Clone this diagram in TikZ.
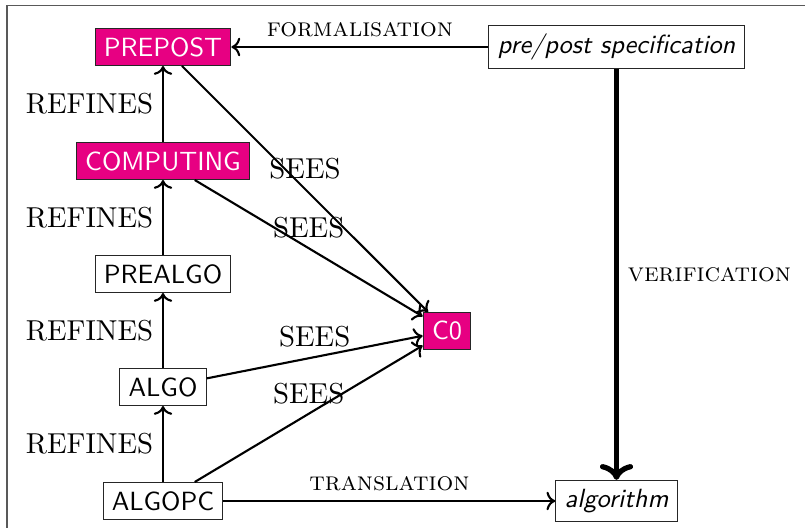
\documentclass[tikz,border=0pt]{standalone}
\usetikzlibrary{arrows.meta}
\definecolor{boxmag}{RGB}{231,0,130}
\begin{document}
\begin{tikzpicture}[x=0.38pt, y=-0.38pt,
  box/.style={draw=black!85, thin, font=\sffamily\fontsize{10}{12}\selectfont, inner sep=3.33pt, fill=white},
  magbox/.style={box, fill=boxmag, text=white},
  lbl/.style={font=\fontsize{10.95}{13}\selectfont},
  sclbl/.style={font=\fontsize{10}{12}\selectfont\scshape},
  conn/.style={thick, ->},
  frameline/.style={draw=black!65, line width=0.7pt}
]
\useasboundingbox (0,0) rectangle (805,528);
\draw[frameline] (7,528) -- (7,5.5) -- (805,5.5);

\node[magbox] (prepost) at (163,47) {PREPOST};
\node[magbox] (computing) at (163,161) {COMPUTING};
\node[box] (prealgo) at (163,274) {PREALGO};
\node[box] (algo) at (163,387) {ALGO};
\node[box] (algopc) at (163,501) {ALGOPC};
\node[magbox] (c0) at (447,331) {C0};
\node[box] (spec) at (616.5,47) {\itshape pre/post specification};
\node[box] (alg) at (616.5,501) {\itshape algorithm};

\draw[conn] (computing) -- (prepost) node[midway, left, lbl] {REFINES};
\draw[conn] (prealgo) -- (computing) node[midway, left, lbl] {REFINES};
\draw[conn] (algo) -- (prealgo) node[midway, left, lbl] {REFINES};
\draw[conn] (algopc) -- (algo) node[midway, left, lbl] {REFINES};

\draw[conn] (prepost) -- (c0) node[midway, above, lbl] {SEES};
\draw[conn] (computing) -- (c0) node[midway, above, lbl] {SEES};
\draw[conn] (algo) -- (c0) node[midway, above, lbl] {SEES};
\draw[conn] (algopc) -- (c0) node[midway, above, lbl] {SEES};

\draw[conn] (spec) -- (prepost) node[midway, above, sclbl] {formalisation};
\draw[conn] (algopc) -- (alg) node[midway, above, sclbl] {translation};
\draw[line width=2pt, ->] (spec) -- (alg) node[midway, right, sclbl] {verification};
\end{tikzpicture}
\end{document}
